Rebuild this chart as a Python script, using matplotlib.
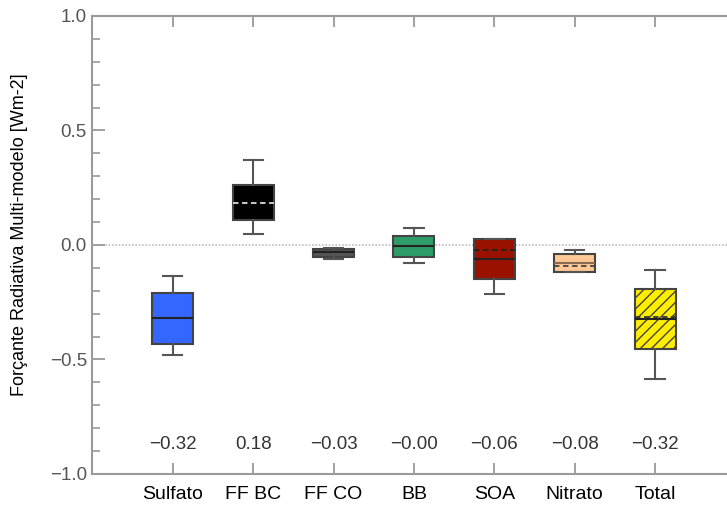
import numpy as np
import matplotlib
matplotlib.use("Agg")
from matplotlib import pyplot as plt

plt.rcParams['font.family'] = ['Liberation Sans', 'DejaVu Sans']

# values (Wm-2)
categories = ['Sulfato', 'FF BC', 'FF CO', 'BB', 'SOA', 'Nitrato', 'Total']
whis_lo = [-0.48, 0.048, -0.063, -0.077, -0.214, -0.12, -0.585]
q1 = [-0.433, 0.11, -0.051, -0.054, -0.147, -0.12, -0.454]
medians = [-0.32, 0.184, -0.031, -0.003, -0.061, -0.08, -0.325]
means = [-0.32, 0.184, -0.031, -0.003, -0.023, -0.092, -0.314]
q3 = [-0.21, 0.26, -0.017, 0.041, 0.025, -0.039, -0.193]
whis_hi = [-0.136, 0.372, -0.015, 0.073, 0.025, -0.023, -0.108]
labels_val = ['\u22120.32', '0.18', '\u22120.03', '\u22120.00', '\u22120.06', '\u22120.08', '\u22120.32']

box_colors = ['#3367ff', '#000000', '#555555', '#2e9d69', '#9b1100', '#ffc894', '#ffee00']
mean_colors = ['#222222', '#dddddd', '#222222', '#222222', '#222222', '#444444', '#333333']
hatches = [None, None, None, None, None, None, '///']

edge = '#444444'
spine_c = '#9a9a9a'

fig = plt.figure(figsize=(7.27, 5.09), dpi=100)
ax = fig.add_axes([0.1272, 0.0688, 0.8845, 0.900])

pos = np.arange(1, len(categories) + 1)
stats = []
for i in range(len(categories)):
    stats.append(dict(whislo=whis_lo[i], q1=q1[i], med=medians[i], q3=q3[i],
                      whishi=whis_hi[i], fliers=[], label=categories[i]))

ax.axhline(0, color='#bbbbbb', lw=1.2, ls=(0, (1, 1)), zorder=0)

bp = ax.bxp(stats, positions=pos, widths=0.51, patch_artist=True,
            showfliers=False, capwidths=0.24,
            boxprops=dict(edgecolor=edge, linewidth=1.5),
            whiskerprops=dict(color='#555555', linewidth=1.5),
            capprops=dict(color='#555555', linewidth=1.5),
            medianprops=dict(color='#222222', linewidth=1.5))

for i, b in enumerate(bp['boxes']):
    b.set_facecolor(box_colors[i])
    if hatches[i]:
        b.set_hatch(hatches[i])
for i, m in enumerate(bp['medians']):
    if i == 1:
        m.set_color('#000000')
    if i == 5:
        m.set_color('#8a6a50')

# mean lines, dashed
for i in range(len(categories)):
    ax.plot([pos[i] - 0.255, pos[i] + 0.255], [means[i], means[i]],
            color=mean_colors[i], lw=1.3, ls=(0, (3, 2)), zorder=5)

for i in range(len(categories)):
    ax.text(pos[i], -0.871, labels_val[i], ha='center', va='center',
            fontsize=13.5, color='#333333')

ax.set_xlim(0, 8)
ax.set_ylim(-1.0, 1.0)
ax.set_xticks(pos)
ax.set_xticklabels(categories, fontsize=14)
ax.set_yticks([-1.0, -0.5, 0.0, 0.5, 1.0])
ax.set_yticklabels(['\u22121.0', '\u22120.5', '0.0', '0.5', '1.0'], fontsize=13.5,
                   color='#555555')
ax.set_yticks(np.arange(-0.9, 1.0, 0.1), minor=True)

ax.tick_params(axis='y', which='major', direction='in', length=9, width=1.3,
               color=spine_c, pad=4)
ax.tick_params(axis='y', which='minor', direction='in', length=6, width=1.2,
               color=spine_c)
ax.tick_params(axis='x', which='major', direction='in', length=8, width=1.3,
               color=spine_c, pad=9, top=True)
for s in ax.spines.values():
    s.set_color(spine_c)
    s.set_linewidth(1.5)

ax.set_ylabel('For\u00e7ante Radiativa Multi-modelo [Wm-2]', fontsize=13)
ax.yaxis.set_label_coords(-0.100, 0.522)

fig.savefig('out.png', dpi=100)
